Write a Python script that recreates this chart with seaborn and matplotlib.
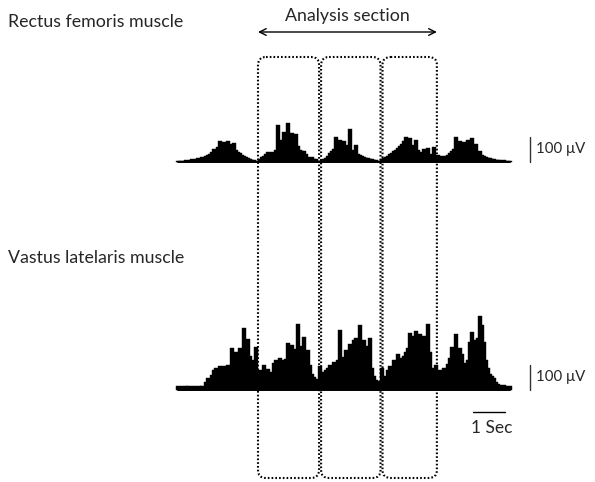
import numpy as np
import matplotlib
matplotlib.use("Agg")
import matplotlib.pyplot as plt
import seaborn as sns
from matplotlib.patches import FancyBboxPatch

# rectified EMG, one value every 1/16 s, in microvolts
SAMPLE_STEP_S = 0.0625
rectus_uv = [
    4, 4, 4, 4, 8, 4, 8,
    12, 8, 12, 16, 12, 20, 16, 24, 28, 32, 40, 52, 44, 60, 84, 52, 80, 64, 84, 56,
    72, 76, 48, 40, 36, 28, 24, 20, 16, 12, 8, 8, 4, 4,
    12, 20, 24, 32, 40, 36, 40, 36, 48, 148, 72, 88, 120, 80, 156, 104, 116, 96, 112, 64,
    48, 44, 44, 32, 20, 16, 20, 12, 12, 4, 4,
    8, 12, 16, 24, 36, 44, 52, 100, 56, 88, 60, 84, 48, 68, 132, 48, 36, 68, 32, 28,
    24, 20, 16, 16, 12, 12, 8, 8, 4, 4,
    12, 16, 20, 24, 32, 36, 44, 48, 56, 64, 72, 84, 100, 76, 96, 68, 60, 88, 48, 40,
    36, 52, 32, 56, 28, 32, 60, 24, 28, 20, 24, 20, 24, 28, 36, 44, 52, 100, 56, 84,
    48, 80, 60, 88, 68, 96, 48, 72, 36, 44, 28, 24, 20, 16, 16, 12, 12, 8, 8, 8,
    4, 8, 4, 4, 4,
]
vastus_uv = [
    16, 12, 16, 12, 16, 16, 12, 16, 12, 16, 12, 16, 16, 12,
    32, 48, 44, 60, 80, 88, 72, 96, 80, 96, 84, 100, 88, 168, 120, 152, 132, 168, 140, 248,
    152, 204, 136, 120, 88, 172, 60,
    80, 68, 100, 64, 84, 72, 60, 108, 120, 112, 128, 120, 112, 124, 188, 136, 180, 152, 164, 264,
    144, 176, 212, 128, 160, 100, 64, 52, 44, 40,
    96, 48, 72, 80, 88, 100, 84, 112, 104, 120, 240, 132, 112, 160, 144, 184, 168, 200, 208, 180,
    260, 192, 200, 176, 152, 208, 88, 56, 40, 32, 36,
    88, 56, 48, 80, 96, 88, 120, 104, 144, 112, 128, 136, 152, 168, 228, 200, 216, 236, 208, 224,
    200, 216, 192, 264, 152, 88, 80, 100, 72, 80, 68, 88, 76, 104,
    128, 172, 120, 224, 152, 168, 144, 108, 100, 120, 192, 232, 200, 188, 208, 296, 260, 192, 120, 88,
    64, 56, 48, 32, 24, 20, 16, 20, 16, 12, 16,
]
trace_labels = ["Rectus femoris muscle", "Vastus latelaris muscle"]
section_edges_s = [2.50, 4.44, 6.36, 8.09]
amp_scale_uv = 100
time_scale_s = 1

# page layout in pixels
W, H = 595, 482
T0_PX = 178          # where t = 0 sits
PX_PER_S = 32
UV_PER_PX = 4
baselines_px = [162, 390]

sns.set_theme(style="white")
plt.rcParams['font.family'] = ['Lato', 'DejaVu Sans']

fig = plt.figure(figsize=(W / 100, H / 100), dpi=100)
xlim = (-T0_PX / PX_PER_S, (W - T0_PX) / PX_PER_S)

trace_axes = []
for values, base in zip([rectus_uv, vastus_uv], baselines_px):
    ax = fig.add_axes([0, 0, 1, 1])
    t = np.arange(len(values)) * SAMPLE_STEP_S
    # bars overlap a little so the burst reads as one solid mass
    sns.barplot(x=t, y=values, native_scale=True, orient='x', color='black',
                saturation=1, width=1.6, errorbar=None, edgecolor='black',
                linewidth=0.3, ax=ax)
    ax.plot([t[0], t[-1]], [0, 0], color='black', lw=1.4)
    ax.set_xlim(xlim)
    ax.set_ylim(-(H - base) * UV_PER_PX, base * UV_PER_PX)
    ax.axis('off')
    ax.patch.set_alpha(0)

    # amplitude scale bar
    bar_t = 11.0
    ax.plot([bar_t, bar_t], [0, amp_scale_uv], color='#333333', lw=1)
    ax.text(bar_t + 0.2, amp_scale_uv / 2, "100 \u03bcV", fontsize=10.8,
            va='center', ha='left')
    trace_axes.append(ax)

# time scale bar under the lower trace
ax = trace_axes[1]
ax.plot([9.22, 9.22 + time_scale_s], [-88, -88], color='black', lw=1)
ax.text(9.22 + time_scale_s / 2 + 0.1, -152, "1 Sec", fontsize=12.5,
        ha='center', va='center')

# annotation layer in pixel coordinates
ann = fig.add_axes([0, 0, 1, 1])
ann.set_xlim(0, W)
ann.set_ylim(H, 0)
ann.axis('off')
ann.patch.set_alpha(0)

edges_px = [T0_PX + PX_PER_S * e for e in section_edges_s]
n_box = len(edges_px) - 1
for i, (left, right) in enumerate(zip(edges_px[:-1], edges_px[1:])):
    # neighbouring boxes sit side by side, not on top of each other
    l = left + (1 if i > 0 else 0)
    r = right - (1 if i < n_box - 1 else 0)
    box = FancyBboxPatch((l, 57), r - l, 478 - 57,
                         boxstyle="round,pad=0,rounding_size=8",
                         fill=False, edgecolor='black', lw=1.5,
                         linestyle=(0, (0.8, 1.0)))
    ann.add_patch(box)

ann.annotate('', xy=(edges_px[-1], 32), xytext=(edges_px[0], 32),
             arrowprops=dict(arrowstyle='<->', lw=1, color='black',
                             shrinkA=0, shrinkB=0))
ann.text((edges_px[0] + edges_px[-1]) / 2, 16, "Analysis section",
         fontsize=12.8, ha='center', va='center')

ann.text(8, 22, trace_labels[0], fontsize=12.8, ha='left', va='center')
ann.text(8, 258, trace_labels[1], fontsize=12.8, ha='left', va='center')

fig.savefig("out.png", dpi=100)
